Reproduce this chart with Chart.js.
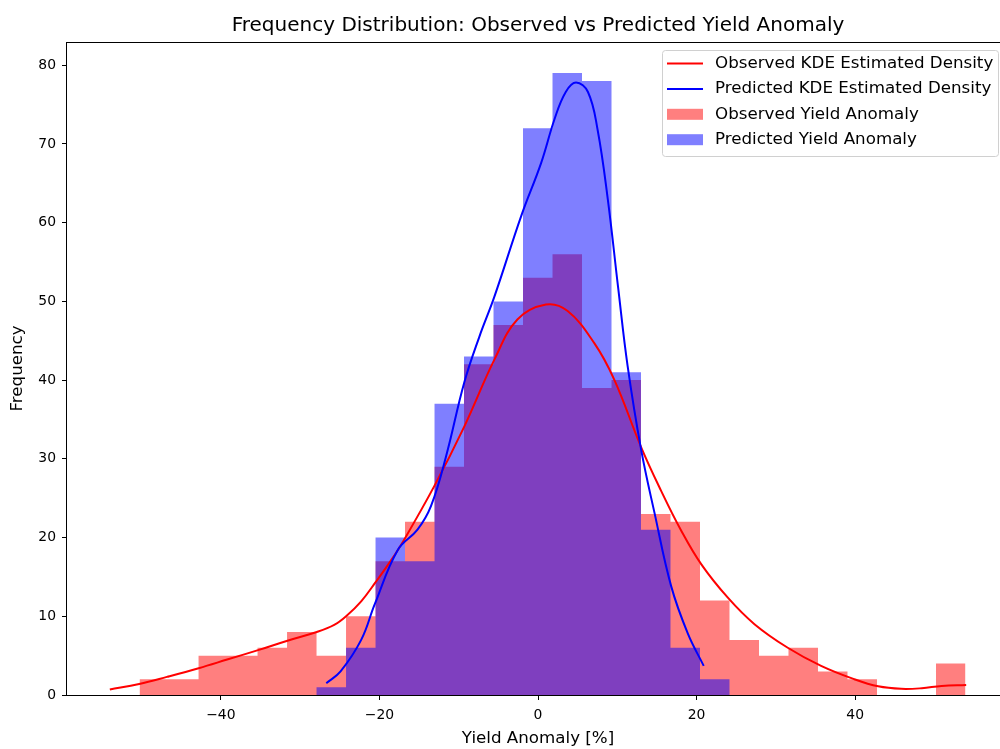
<!DOCTYPE html>
<html>
<head>
<meta charset="utf-8">
<script src="https://cdn.jsdelivr.net/npm/chart.js@4.4.0/dist/chart.umd.min.js"></script>
<style>
html, body { margin: 0; padding: 0; background: #fff; overflow: hidden; }
</style>
</head>
<body>
<canvas id="chart" width="1010" height="749"></canvas>
<script>
// histogram bin edges (shared by both series)
const binEdges = [-50.25, -46.53, -42.81, -39.09, -35.37, -31.65, -27.93, -24.21, -20.49, -16.77,
  -13.05, -9.33, -5.61, -1.89, 1.83, 5.55, 9.27, 12.99, 16.71, 20.43,
  24.15, 27.87, 31.59, 35.31, 39.03, 42.75, 46.47, 50.19, 53.91]
const observedCounts = [2, 2, 5, 5, 6, 8, 5, 10, 17, 22, 29, 42, 47, 53, 56, 39, 40, 23, 22, 12, 7, 5, 6, 3, 2, 0, 0, 4]
const predictedCounts = [0, 0, 0, 0, 0, 0, 1, 6, 20, 17, 37, 43, 50, 72, 79, 78, 41, 21, 6, 2, 0, 0, 0, 0, 0, 0, 0, 0]

// KDE curves, scaled to counts
const obsKdeX = [-54.0, -50.3, -46.8, -42.8, -39.2, -35.3, -31.6, -27.9, -25.7, -24.2, -22.3, -20.5, -18.6, -16.9,
  -13.1, -9.3, -5.5, -2.6, 1.0, 3.7, 7.1, 9.6, 13.0, 15.5, 18.0, 20.6, 24.0, 27.3, 31.5, 35.7, 39.9, 42.9, 45.8, 48.4, 50.9, 54.0]
const obsKdeY = [0.7, 1.4, 2.3, 3.4, 4.5, 5.7, 6.9, 8.0, 8.9, 10.0, 11.9, 14.3, 17.0, 19.7,
  26.5, 34.1, 42.6, 47.7, 49.6, 48.8, 44.7, 40.1, 31.5, 26.0, 21.0, 16.6, 12.3, 9.0, 6.0, 3.7, 2.0, 1.1, 0.78, 0.86, 1.15, 1.27]
const predKdeX = [-26.7, -24.9, -22.3, -20.6, -17.7, -15.2, -13.5, -11.6, -9.3, -7.4, -5.5, -2.1, 0.4, 2.1, 3.5, 4.8,
  6.3, 7.5, 8.8, 10.1, 11.3, 13.0, 14.7, 16.8, 18.9, 20.9]
const predKdeY = [1.5, 3.0, 7.0, 11.5, 18.4, 21.0, 24.0, 30.3, 39.7, 45.5, 50.6, 60.9, 67.6, 73.2, 76.6, 77.8,
  76.6, 71.9, 63.0, 51.8, 41.8, 31.2, 23.1, 13.8, 7.8, 3.7]

const xTickValues = [-40, -20, 0, 20, 40]
const yTickValues = [0, 10, 20, 30, 40, 50, 60, 70, 80]

const legendItems = [
  { label: 'Observed KDE Estimated Density', kind: 'line', color: 'red' },
  { label: 'Predicted KDE Estimated Density', kind: 'line', color: 'blue' },
  { label: 'Observed Yield Anomaly', kind: 'patch', color: 'rgba(255,0,0,0.5)' },
  { label: 'Predicted Yield Anomaly', kind: 'patch', color: 'rgba(0,0,255,0.5)' }
]

const FONT = '"DejaVu Sans", sans-serif'

// turn counts into a stepped outline
function histPoints(edges, counts) {
  const pts = [{ x: edges[0], y: 0 }]
  counts.forEach((c, i) => pts.push({ x: edges[i], y: c }))
  pts.push({ x: edges[edges.length - 1], y: counts[counts.length - 1] })
  pts.push({ x: edges[edges.length - 1], y: 0 })
  return pts
}

const zip = (xs, ys) => xs.map((x, i) => ({ x: x, y: ys[i] }))

const framePlugin = {
  id: 'frame',
  afterDraw(chart) {
    const { ctx, chartArea: a } = chart
    ctx.save()
    ctx.strokeStyle = '#000'
    ctx.lineWidth = 1
    ctx.strokeRect(Math.round(a.left) - 0.5, Math.round(a.top) + 0.5, a.right - a.left, a.bottom - a.top)

    // title
    ctx.fillStyle = '#000'
    ctx.font = '20px ' + FONT
    ctx.textAlign = 'center'
    ctx.textBaseline = 'alphabetic'
    ctx.fillText('Frequency Distribution: Observed vs Predicted Yield Anomaly', (a.left + a.right) / 2, 31)

    // legend, upper right
    const bx = 662.5, by = 50.5, bw = 336, bh = 106
    ctx.beginPath()
    ctx.roundRect(bx, by, bw, bh, 3)
    ctx.fillStyle = 'rgba(255,255,255,0.8)'
    ctx.fill()
    ctx.strokeStyle = '#d0d0d0'
    ctx.stroke()
    ctx.font = '16.7px ' + FONT
    ctx.textAlign = 'left'
    ctx.textBaseline = 'middle'
    legendItems.forEach((it, i) => {
      const cy = 63.5 + i * 25.4
      if (it.kind === 'line') {
        ctx.strokeStyle = it.color
        ctx.lineWidth = 2
        ctx.beginPath()
        ctx.moveTo(667, cy)
        ctx.lineTo(703, cy)
        ctx.stroke()
      } else {
        ctx.fillStyle = it.color
        ctx.fillRect(667, cy - 5.5, 36, 11)
      }
      ctx.fillStyle = '#000'
      ctx.fillText(it.label, 715, cy)
    })
    ctx.restore()
  }
}

new Chart(document.getElementById('chart'), {
  type: 'line',
  data: {
    datasets: [
      {
        label: 'Observed Yield Anomaly',
        data: histPoints(binEdges, observedCounts),
        stepped: 'before',
        borderWidth: 0,
        borderColor: 'transparent',
        backgroundColor: 'rgba(255,0,0,0.5)',
        fill: 'origin',
        pointRadius: 0,
        order: 4
      },
      {
        label: 'Predicted Yield Anomaly',
        data: histPoints(binEdges, predictedCounts),
        stepped: 'before',
        borderWidth: 0,
        borderColor: 'transparent',
        backgroundColor: 'rgba(0,0,255,0.5)',
        fill: 'origin',
        pointRadius: 0,
        order: 3
      },
      {
        label: 'Observed KDE Estimated Density',
        data: zip(obsKdeX, obsKdeY),
        borderColor: 'red',
        borderWidth: 2,
        pointRadius: 0,
        fill: false,
        tension: 0.4,
        order: 2
      },
      {
        label: 'Predicted KDE Estimated Density',
        data: zip(predKdeX, predKdeY),
        borderColor: 'blue',
        borderWidth: 2,
        pointRadius: 0,
        fill: false,
        tension: 0.4,
        order: 1
      }
    ]
  },
  options: {
    responsive: false,
    animation: false,
    events: [],
    layout: { padding: { top: 42, right: 1, left: 0, bottom: 0 } },
    plugins: {
      legend: { display: false },
      tooltip: { enabled: false },
      title: { display: false }
    },
    scales: {
      x: {
        type: 'linear',
        min: -59.4,
        max: 59.4,
        afterFit: (s) => { s.height = 54 },
        afterBuildTicks: (s) => { s.ticks = xTickValues.map(v => ({ value: v })) },
        grid: { drawOnChartArea: false, tickLength: 5, color: '#000' },
        border: { display: false },
        ticks: {
          color: '#000',
          font: { family: FONT, size: 13.9 },
          padding: 7,
          maxRotation: 0,
          callback: (v) => v < 0 ? '\u2212' + Math.abs(v) : String(v)
        },
        title: {
          display: true,
          text: 'Yield Anomaly [%]',
          color: '#000',
          font: { family: FONT, size: 16.7 },
          padding: { top: 0, bottom: 0 }
        }
      },
      y: {
        min: 0,
        max: 82.95,
        afterFit: (s) => { s.width = 67 },
        afterBuildTicks: (s) => { s.ticks = yTickValues.map(v => ({ value: v })) },
        grid: { drawOnChartArea: false, tickLength: 5, color: '#000' },
        border: { display: false },
        ticks: {
          color: '#000',
          font: { family: FONT, size: 13.9 },
          padding: 6
        },
        title: {
          display: true,
          text: 'Frequency',
          color: '#000',
          font: { family: FONT, size: 16.7 },
          padding: { top: 8, bottom: 0 }
        }
      }
    }
  },
  plugins: [framePlugin]
})
</script>
</body>
</html>
